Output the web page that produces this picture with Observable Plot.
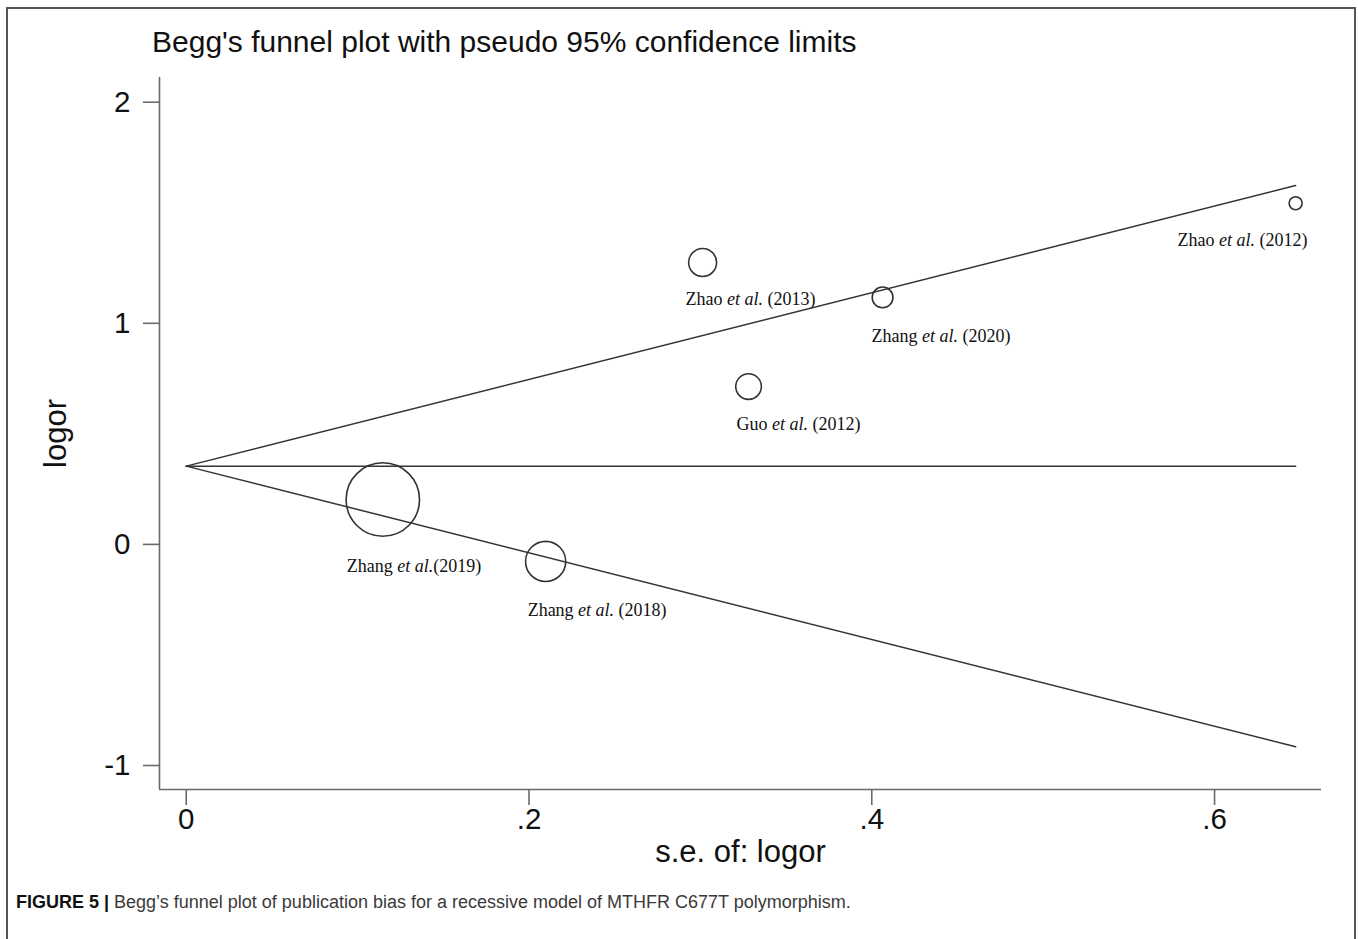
<!DOCTYPE html>
<html>
<head>
<meta charset="utf-8">
<script src="https://cdn.jsdelivr.net/npm/d3@7"></script>
<script src="https://cdn.jsdelivr.net/npm/@observablehq/plot@0.6"></script>
<style>
  body { margin: 0; background: #fff; }
  #wrap { position: relative; width: 1358px; height: 939px; overflow: hidden; background: #fff; }
  #frame { position: absolute; left: 6px; top: 7px; width: 1350px; height: 960px; border: 2px solid #555; box-sizing: border-box; }
  #title { position: absolute; left: 152px; top: 27px; font: 30px/1 "Liberation Sans", Arial, sans-serif; color: #111; white-space: nowrap; }
  #chart { position: absolute; left: 0; top: 0; }
  #caption { position: absolute; left: 16px; top: 893px; font: 18px/1 "Liberation Sans", Arial, sans-serif; color: #3a3a3a; white-space: nowrap; }
  #caption b { color: #111; }
</style>
</head>
<body>
<div id="wrap">
  <div id="frame"></div>
  <div id="chart"></div>
  <div id="title">Begg's funnel plot with pseudo 95% confidence limits</div>
  <div id="caption"><b>FIGURE 5 |</b> Begg’s funnel plot of publication bias for a recessive model of MTHFR C677T polymorphism.</div>
</div>
<script>
// ---- data ----
const studies = ["Zhang et al.(2019)", "Zhang et al. (2018)", "Zhao et al. (2013)", "Guo et al. (2012)", "Zhang et al. (2020)", "Zhao et al. (2012)"];
const seLogor = [0.1147, 0.2097, 0.3013, 0.3281, 0.4063, 0.6473];
const logor   = [0.203, -0.077, 1.275, 0.714, 1.117, 1.543];
const pooled = 0.354;
const funnelSe = [0, 0.6473];
const upperLimit = [0.354, 1.623];
const lowerLimit = [0.354, -0.915];
const xTicks = [0, 0.2, 0.4, 0.6];
const yTicks = [-1, 0, 1, 2];

// label offsets (pixels) relative to each study marker
const labelDx = [-36, -18, -17, -12, -11, -118];
const labelDy = [67, 49, 37, 38, 39, 37];

const xDomain = [-0.0156, 0.6624];
const yDomain = [-1.1085, 2.1117];

const rows = studies.map((s, i) => ({study: s, se: seLogor[i], logor: logor[i], w: 1 / (seLogor[i] ** 2), dx: labelDx[i], dy: labelDy[i]}));
const maxW = d3.max(rows, d => d.w);
const upperLine = funnelSe.map((s, i) => ({se: s, v: upperLimit[i]}));
const lowerLine = funnelSe.map((s, i) => ({se: s, v: lowerLimit[i]}));
const pooledLine = funnelSe.map(s => ({se: s, v: pooled}));

const fmt = d => d === 0 ? "0" : String(d).replace(/^0\./, ".").replace(/^-0\./, "-.");
const axisColor = "#6a6a6a";
const lineColor = "#333";

const chart = Plot.plot({
  width: 1358,
  height: 880,
  marginLeft: 159,
  marginRight: 37,
  marginTop: 77,
  marginBottom: 91,
  style: {background: "transparent", fontFamily: "'Liberation Sans', Arial, sans-serif", color: "#111"},
  x: {domain: xDomain},
  y: {domain: yDomain},
  r: {type: "sqrt", domain: [0, maxW], range: [0, 36.7]},
  marks: [
    Plot.ruleX([xDomain[0]], {stroke: axisColor, strokeWidth: 1.6}),
    Plot.ruleY([yDomain[0]], {stroke: axisColor, strokeWidth: 1.6}),
    Plot.axisX(xTicks, {tickSize: 16, tickPadding: 3, fontSize: 29.5, stroke: axisColor, strokeWidth: 1.6, tickFormat: fmt,
      label: "s.e. of: logor", labelAnchor: "center", labelArrow: false, labelOffset: 72}),
    Plot.axisY(yTicks, {tickSize: 16, tickPadding: 13, fontSize: 29.5, stroke: axisColor, strokeWidth: 1.6, tickFormat: fmt,
      label: "logor", labelAnchor: "center", labelArrow: false, labelOffset: 116}),
    Plot.line(pooledLine, {x: "se", y: "v", stroke: lineColor, strokeWidth: 1.5}),
    Plot.line(upperLine, {x: "se", y: "v", stroke: lineColor, strokeWidth: 1.5}),
    Plot.line(lowerLine, {x: "se", y: "v", stroke: lineColor, strokeWidth: 1.5}),
    Plot.dot(rows, {x: "se", y: "logor", r: "w", stroke: lineColor, strokeWidth: 1.6, fill: "none"}),
    ...rows.map(d => Plot.text([d], {x: "se", y: "logor", text: "study", dx: d.dx, dy: d.dy,
      textAnchor: "start", lineAnchor: "middle", fontFamily: "'Liberation Serif', 'Times New Roman', serif",
      fontSize: 18, fill: "#111", className: "study-label"}))
  ]
});

document.getElementById("chart").appendChild(chart);

// style axis label sizes
d3.select(chart).selectAll("g[aria-label='x-axis label'] text, g[aria-label='y-axis label'] text")
  .style("font-size", "31px");

// italicise "et al." in study labels
d3.select(chart).selectAll("g.study-label text").each(function () {
  const t = d3.select(this);
  const s = t.text();
  const m = s.match(/^(.*?)(et al\.)(.*)$/);
  if (!m) return;
  t.text(null);
  t.append("tspan").text(m[1]);
  t.append("tspan").attr("font-style", "italic").text(m[2]);
  t.append("tspan").text(m[3]);
});
</script>
</body>
</html>
